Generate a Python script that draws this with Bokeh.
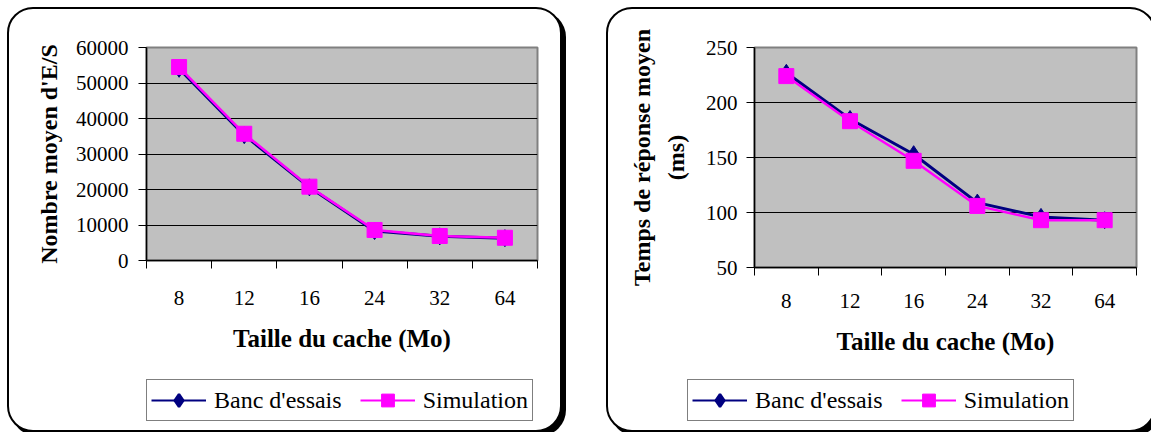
from bokeh.plotting import figure
from bokeh.models import FixedTicker, Legend, LegendItem, Range1d, Spacer
from bokeh.layouts import row, column
from bokeh.embed import file_html
from bokeh.resources import INLINE

# ---- data ----
cache_sizes = ["8", "12", "16", "24", "32", "64"]
io_banc = [54000, 35300, 20600, 8300, 6800, 6300]
io_sim = [54500, 35700, 20800, 8600, 6900, 6400]
io_yticks = [0, 10000, 20000, 30000, 40000, 50000, 60000]
rt_banc = [227, 185, 153, 109, 96, 93]
rt_sim = [224, 183, 147, 106, 93, 93]
rt_yticks = [50, 100, 150, 200, 250]

x_title = "Taille du cache (Mo)"
io_title = "Nombre moyen d'E/S"
rt_title = "Temps de réponse moyen\n(ms)"
series_names = ["Banc d'essais", "Simulation"]

FONT = "Liberation Serif"
NAVY = "#000080"
MAG = "#FF00FF"


def add_series(p, xs, banc, sim, lw1, lw2, dsize, dlw, ssize):
    l1 = p.line(xs, banc, line_color=NAVY, line_width=lw1)
    s1 = p.scatter(xs, banc, marker="diamond", size=dsize, line_width=dlw,
                   fill_color=NAVY, line_color=NAVY)
    l2 = p.line(xs, sim, line_color=MAG, line_width=lw2)
    s2 = p.scatter(xs, sim, marker="square", size=ssize,
                   fill_color=MAG, line_color=MAG)
    return (l1, s1), (l2, s2)


def make_panel(banc, sim, yticks, ytitle, width, chart_h, legend_h, borders,
               legend_xy, xl_standoff, xt_standoff, yl_standoff, yt_standoff,
               yt_line_height):
    n = len(cache_sizes)
    xs = list(range(1, n + 1))
    p = figure(width=width, height=chart_h,
               x_range=Range1d(0.5, n + 0.5),
               y_range=Range1d(yticks[0], yticks[-1]),
               output_backend="svg", toolbar_location=None,
               min_border_left=borders[0], min_border_right=borders[1],
               min_border_top=borders[2], min_border_bottom=borders[3])
    p.frame_align = False
    p.background_fill_color = "#C0C0C0"
    p.border_fill_alpha = 0
    p.outline_line_color = "#808080"
    p.outline_line_width = 2
    p.xgrid.visible = False
    p.ygrid.grid_line_color = "black"
    p.ygrid.grid_line_width = 1
    p.ygrid.ticker = FixedTicker(ticks=yticks[1:-1])

    xa = p.xaxis[0]
    xa.ticker = FixedTicker(ticks=xs, minor_ticks=[x - 0.5 for x in xs] + [n + 0.5])
    xa.major_label_overrides = {x: lab for x, lab in zip(xs, cache_sizes)}
    xa.major_tick_line_color = None
    xa.major_tick_out = 0
    xa.major_tick_in = 0
    xa.minor_tick_line_color = "black"
    xa.minor_tick_out = 8
    xa.minor_tick_in = 0
    xa.axis_line_color = "black"
    xa.axis_line_width = 1.5
    xa.major_label_standoff = xl_standoff
    xa.axis_label = x_title
    xa.axis_label_standoff = xt_standoff

    ya = p.yaxis[0]
    ya.ticker = FixedTicker(ticks=yticks)
    ya.minor_tick_line_color = None
    ya.major_tick_line_color = "black"
    ya.major_tick_out = 8
    ya.major_tick_in = 0
    ya.axis_line_color = "black"
    ya.axis_line_width = 1.5
    ya.major_label_standoff = yl_standoff
    ya.axis_label = ytitle
    ya.axis_label_standoff = yt_standoff
    ya.axis_label_text_line_height = yt_line_height

    for ax in (xa, ya):
        ax.major_label_text_font = FONT
        ax.major_label_text_font_size = "21px"
        ax.major_label_text_color = "black"
        ax.axis_label_text_font = FONT
        ax.axis_label_text_font_size = "25px"
        ax.axis_label_text_font_style = "bold"
        ax.axis_label_text_color = "black"
    ya.axis_label_text_font_size = "24px"

    add_series(p, xs, banc, sim, 3, 2.5, 17, 1, 15)

    # legend strip (its own small figure; series drawn out of view, only the key shows)
    q = figure(width=width, height=legend_h, x_range=Range1d(-20, -19),
               y_range=Range1d(0, 1), output_backend="svg", toolbar_location=None,
               x_axis_location=None, y_axis_location=None, min_border=0)
    q.frame_align = False
    q.grid.visible = False
    q.outline_line_color = None
    q.background_fill_alpha = 0
    q.border_fill_alpha = 0
    r1, r2 = add_series(q, xs, banc, sim, 2, 2, 17, 2.5, 15)
    legend = Legend(items=[LegendItem(label=series_names[0], renderers=list(r1)),
                           LegendItem(label=series_names[1], renderers=list(r2))],
                    orientation="horizontal", location=legend_xy,
                    border_line_color="black", border_line_width=1,
                    background_fill_color="white", background_fill_alpha=1,
                    label_text_font=FONT, label_text_font_size="24px",
                    label_text_color="black",
                    glyph_width=55, glyph_height=32, label_standoff=8,
                    spacing=18, padding=4, margin=0)
    q.add_layout(legend)

    panel = column(p, q, spacing=0)
    panel.styles = {"border": "2px solid black", "border-radius": "26px",
                    "box-shadow": "4px 4px 0px 0px black", "overflow": "hidden",
                    "background-color": "white"}
    return panel


left = make_panel(io_banc, io_sim, io_yticks, io_title, 551, 366, 55,
                  (137, 23, 38, 115), (137, 9), 22, 17, 10, 11, 1.2)
right = make_panel(rt_banc, rt_sim, rt_yticks, rt_title, 546, 366, 55,
                   (146, 18, 38, 108), (79, 9), 18, 17, 9, 14, 1.32)

layout = column(Spacer(height=7),
                row(Spacer(width=7), left, Spacer(width=44), right))

open("out.html", "w").write(file_html(layout, INLINE))
